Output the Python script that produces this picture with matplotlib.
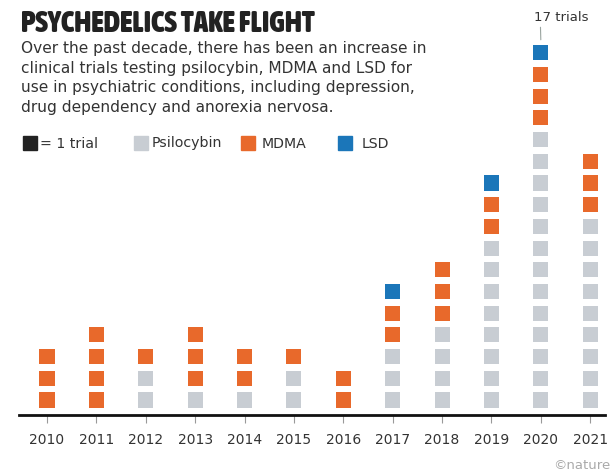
import matplotlib
matplotlib.use("Agg")
import matplotlib.pyplot as plt
from matplotlib.lines import Line2D
from matplotlib import font_manager as fm

years = ['2010', '2011', '2012', '2013', '2014', '2015', '2016', '2017', '2018', '2019', '2020', '2021']
psilocybin = [0, 0, 2, 1, 1, 2, 0, 3, 4, 8, 13, 9]
mdma = [3, 4, 1, 3, 2, 1, 2, 2, 3, 2, 3, 3]
lsd = [0, 0, 0, 0, 0, 0, 0, 1, 0, 1, 1, 0]

C_PSI = '#c8cdd3'
C_MDMA = '#e8692b'
C_LSD = '#1b76b9'
TXT = '#333333'

W, H = 613, 473
fig = plt.figure(figsize=(W / 100, H / 100), dpi=100)
ax = fig.add_axes([19 / W, 58 / H, 586 / W, 385 / H])

xs, ys, cs = [], [], []
for i in range(len(years)):
    level = 0
    for n, c in ((psilocybin[i], C_PSI), (mdma[i], C_MDMA), (lsd[i], C_LSD)):
        for k in range(n):
            xs.append(i)
            ys.append(level)
            cs.append(c)
            level += 1

ax.scatter(xs, ys, marker='s', s=118, c=cs, linewidths=0, zorder=3)

ax.set_xlim(-0.567, 11.30)
ax.set_ylim(-0.69, 17.05)
for s in ('left', 'right', 'top'):
    ax.spines[s].set_visible(False)
ax.spines['bottom'].set_linewidth(2.0)
ax.spines['bottom'].set_color('#111111')
ax.set_yticks([])
ax.set_xticks(range(len(years)))
ax.set_xticklabels(years)
ax.tick_params(axis='x', length=6, width=0.8, color='#999999', pad=7,
               labelsize=10, labelcolor=TXT)

# annotation of maximum
imax = max(range(len(years)), key=lambda i: psilocybin[i] + mdma[i] + lsd[i])
tot = psilocybin[imax] + mdma[imax] + lsd[imax]
ax.annotate(f'{tot} trials', xy=(imax, tot - 1 + 0.6), xytext=(-5, 11),
            textcoords='offset points', ha='left', va='bottom', fontsize=9.5,
            color=TXT, annotation_clip=False,
            arrowprops=dict(arrowstyle='-', color='#9aa5a0', lw=0.8,
                            shrinkA=0, shrinkB=0, relpos=(0.12, 0)))

# pick a condensed bold font for the title if any is installed
title_fp = None
cands = []
for f in fm.fontManager.ttflist:
    nm = f.name.lower()
    cond = ('condensed' in nm or 'narrow' in nm or
            str(f.stretch) in ('condensed', 'semi-condensed', 'extra-condensed',
                               'ultra-condensed') or
            (isinstance(f.stretch, int) and f.stretch < 500))
    w = f.weight
    if isinstance(w, str):
        w = {'bold': 700, 'heavy': 800, 'black': 900, 'semibold': 600,
             'demibold': 600, 'extra bold': 800}.get(w, 400)
    if cond and w >= 600 and 'italic' not in f.style and 'oblique' not in f.style:
        cands.append((w, f.fname))
if cands:
    cands.sort(key=lambda t: -t[0])
    title_fp = fm.FontProperties(fname=cands[0][1])
else:
    title_fp = fm.FontProperties(family='DejaVu Sans', weight='bold')

title = fig.text(21 / W, 1 - 32 / H, 'PSYCHEDELICS TAKE FLIGHT',
                 fontproperties=title_fp, color='#222222', va='baseline', ha='left')
title.set_fontsize(20)
fig.canvas.draw()
r = fig.canvas.get_renderer()
tw = title.get_window_extent(r).width
title.set_fontsize(min(30, 20 * 294 / tw))

sub = ['Over the past decade, there has been an increase in',
       'clinical trials testing psilocybin, MDMA and LSD for',
       'use in psychiatric conditions, including depression,',
       'drug dependency and anorexia nervosa.']
for k, line in enumerate(sub):
    fig.text(21 / W, 1 - (53 + 19.6 * k) / H, line, fontsize=11.05, color=TXT,
             va='baseline', ha='left')

# legend
ly = 1 - 143.5 / H
items = [(30, '#222222', '= 1 trial', 40), (141, C_PSI, 'Psilocybin', 152),
         (248, C_MDMA, 'MDMA', 262), (345, C_LSD, 'LSD', 362)]
for mx, col, lab, tx in items:
    fig.add_artist(Line2D([mx / W], [ly], marker='s', markersize=9.5,
                          color=col, linestyle='none', transform=fig.transFigure))
    fig.text(tx / W, ly, lab, fontsize=10.2, color=TXT, va='center', ha='left')

fig.text(610 / W, 8 / H, '\u00a9nature', fontsize=9.5, color='#aaaaaa',
         va='center', ha='right')

fig.savefig('out.png', dpi=100)
